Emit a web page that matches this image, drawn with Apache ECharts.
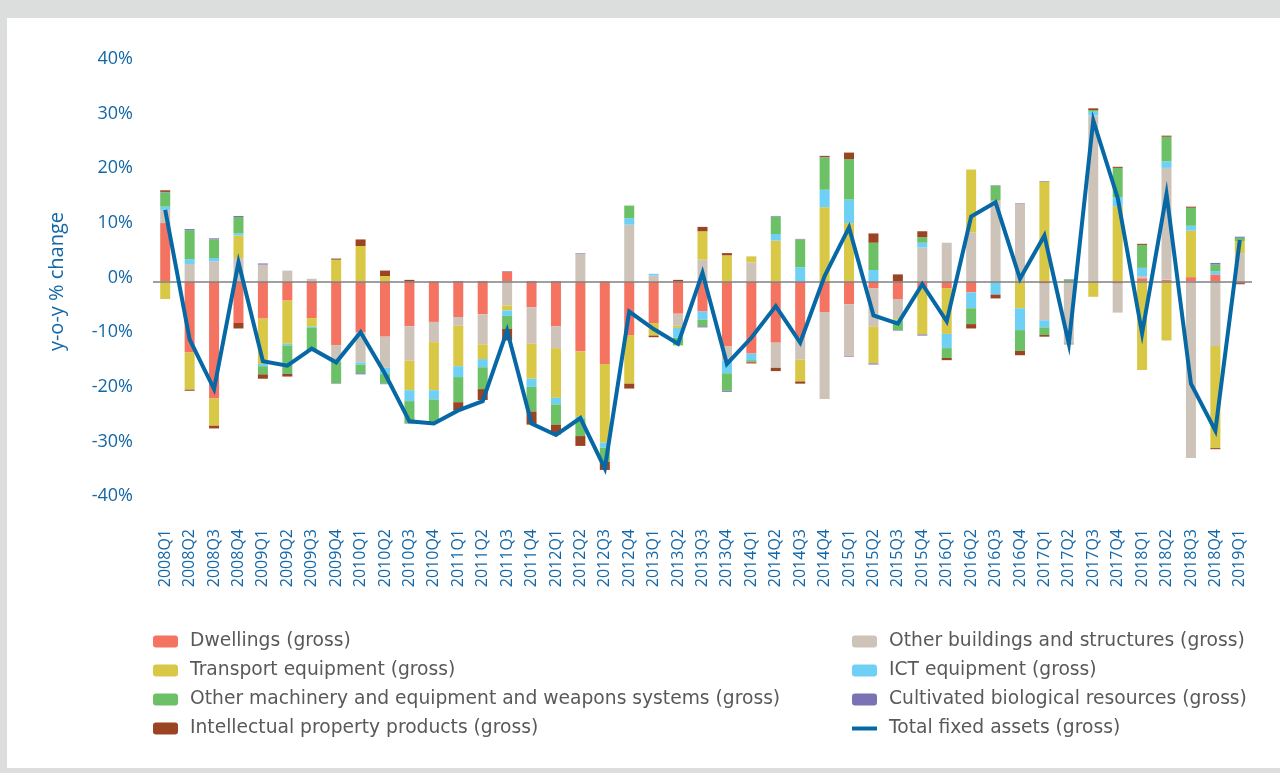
<!DOCTYPE html>
<html>
<head>
<meta charset="utf-8">
<script src="https://cdn.jsdelivr.net/npm/echarts@6/dist/echarts.min.js"></script>
<style>
  html, body { margin: 0; padding: 0; background: #dcdddd; }
  #panel { position: absolute; left: 7px; top: 18px; width: 1273px; height: 750px; background: #fff; }
  #chart { position: absolute; left: 0; top: 0; width: 1280px; height: 773px; }
</style>
</head>
<body>
<div id="panel"></div>
<div id="chart"></div>
<script>
// quarters 2008Q1 .. 2019Q1
var quarters = [];
for (var y = 2008; y <= 2019; y++) {
    for (var q = 1; q <= 4; q++) {
        if (y === 2019 && q > 1) break;
        quarters.push(y + 'Q' + q);
    }
}

// y-o-y % contributions
var dwellings = [10.7, -13.0, -21.4, -7.6, -6.8, -3.5, -6.7, -11.7, -9.3, -10.1, -8.2, -7.4, -6.5, -6.0, 1.8, -4.7, -8.2, -12.8, -15.1, -9.8, -7.6, -5.9, -5.5, -11.9, -13.2, -11.2, -10.2, -5.6, -4.2, -1.2, -3.2, -1.2, -1.2, -2.0, -0.2, 0, -0.4, 0, -0.2, -0.4, 0.6, 0.3, 0.8, 1.3, -0.3];
var otherBuildings = [2.4, 3.2, 3.7, 4.3, 3.1, 2.0, 0.5, -2.7, -5.5, -5.7, -6.3, -3.7, -1.6, -5.5, -4.4, -6.7, -4.0, 5.1, 0.1, 10.4, 1.1, -2.2, 4.0, -2.6, 3.5, -4.6, -4.1, -15.9, -9.5, -7.1, -3.5, 6.2, 7.1, 9.0, 14.8, 14.2, -6.7, -11.3, 30.4, -5.3, 0.4, 20.5, -32.3, -11.8, 5.2];
var transport = [-3.2, -6.8, -5.0, 4.1, -8.3, -7.9, -1.5, 4.0, 6.5, 1.0, -5.4, -8.8, -7.4, -2.7, -0.9, -6.4, -9.1, -12.0, -14.4, -8.9, -2.3, -0.4, 5.2, 4.8, 1.1, 7.5, -4.0, 13.6, 10.7, -6.7, -0.3, -8.5, -8.4, 11.5, 0, -4.9, 18.3, 0, -2.6, 13.8, -16.2, -10.8, 8.5, -18.7, 2.2];
var ict = [0.6, 0.9, 0.6, 0.4, -0.4, -0.3, -0.2, -0.3, -0.4, -1.1, -2.0, -1.7, -2.0, -1.5, -1.0, -1.5, -1.2, -0.3, -0.9, 1.2, 0.3, -1.8, -1.5, -2.3, -1.2, 1.2, 2.6, 3.2, 4.3, 2.1, -0.2, 0.9, -2.6, -2.9, -2.2, -4.0, -1.3, -0.1, 0.7, 1.6, 1.5, 1.2, 0.9, 0.6, 0];
var machinery = [2.6, 5.3, 3.4, 3.0, -1.5, -5.2, -4.2, -3.9, -1.6, -1.8, -4.0, -4.3, -4.6, -4.0, -2.4, -4.5, -3.7, -3.2, -2.6, 2.3, 0, -1.4, -1.2, -3.2, -0.3, 3.2, 5.1, 5.9, 7.4, 5.0, -1.7, 1.0, -1.8, -2.9, 2.7, -3.8, -1.4, 0.3, 0.3, 5.4, 4.2, 4.5, 3.3, 1.2, 0.6];
var cultivated = [0.1, 0.2, 0.2, 0.2, 0.2, 0, 0, -0.1, -0.2, -0.1, -0.1, 0, 0.1, 0.1, 0.1, 0.1, 0.1, 0.1, 0, 0, 0, 0, -0.2, -0.2, -0.1, 0.1, 0.1, 0.1, -0.1, -0.2, -0.1, -0.2, 0, 0, 0.1, 0.1, 0.1, 0.1, 0, 0, 0, 0, 0, 0.3, 0.2];
var ipp = [0.3, -0.2, -0.5, -1.0, -0.8, -0.5, 0, 0.2, 1.2, 1.0, 0.3, 0, -1.5, -2.0, -2.1, -2.4, -1.8, -1.8, -1.5, -0.9, -0.3, 0.3, 0.8, 0.4, -0.2, -0.6, -0.4, 0.2, 1.2, 1.7, 1.3, 1.1, -0.4, -0.8, -0.7, -0.8, -0.3, -0.1, 0.3, 0.2, 0.2, 0.2, 0.2, -0.2, -0.2];
var total = [13.1, -10.6, -19.7, 3.5, -14.6, -15.4, -12.3, -14.8, -9.3, -16.9, -25.6, -26.0, -23.6, -21.9, -9.0, -26.0, -28.1, -25.0, -34.2, -5.5, -8.7, -11.4, 1.6, -15.1, -10.3, -4.5, -11.2, 1.0, 9.9, -6.2, -7.7, -0.5, -7.3, 11.9, 14.5, 0.5, 8.4, -11.4, 29.5, 15.3, -9.5, 16.0, -18.7, -27.3, 7.6];

var names = {
    dw: 'Dwellings (gross)',
    ob: 'Other buildings and structures (gross)',
    tr: 'Transport equipment (gross)',
    ict: 'ICT equipment (gross)',
    mach: 'Other machinery and equipment and weapons systems (gross)',
    cult: 'Cultivated biological resources (gross)',
    ipp: 'Intellectual property products (gross)',
    tot: 'Total fixed assets (gross)'
};

var blue = '#1467a6';
var font = 'Open Sans';
var legendFont = 'DejaVu Sans';

function barSeries(name, data, color) {
    return {
        name: name,
        type: 'bar',
        stack: 'gfcf',
        barWidth: 10,
        itemStyle: { color: color },
        data: data
    };
}

function legendBox(left, items) {
    return {
        orient: 'vertical',
        left: left,
        top: 632,
        itemGap: 10,
        itemWidth: 25,
        itemHeight: 12,
        padding: 0,
        symbolKeepAspect: true,
        textStyle: { fontSize: 18.7, color: '#595959', fontFamily: legendFont, padding: [0, 0, 0, 7] },
        data: items
    };
}

var myChart = echarts.init(document.getElementById('chart'));

var zeroBars = barSeries(names.dw, dwellings, '#f47461');
zeroBars.markLine = {
    silent: true,
    symbol: ['none', 'none'],
    label: { show: false },
    lineStyle: { color: '#808080', width: 1.5, type: 'solid' },
    data: [{ yAxis: 0 }]
};

var option = {
    backgroundColor: 'transparent',
    animation: false,
    textStyle: { fontFamily: font },
    grid: { left: 153, right: 28, top: 63, height: 437 },
    legend: [
        legendBox(153, [names.dw, names.tr, names.mach, names.ipp]),
        legendBox(852, [names.ob, names.ict, names.cult,
            { name: names.tot, icon: 'path://M0,0L25,0L25,4L0,4Z' }])
    ],
    xAxis: {
        type: 'category',
        data: quarters,
        axisLine: { show: false, onZero: false },
        axisTick: { show: false },
        axisLabel: { rotate: 90, interval: 0, margin: 29, fontSize: 16, color: blue, fontFamily: font }
    },
    yAxis: {
        type: 'value',
        min: -40,
        max: 40,
        interval: 10,
        name: 'y-o-y % change',
        nameLocation: 'middle',
        nameRotate: 90,
        nameGap: 86,
        nameTextStyle: { fontSize: 20, color: blue, fontFamily: font },
        axisLine: { show: false },
        axisTick: { show: false },
        splitLine: { show: false },
        axisLabel: {
            formatter: '{value}%',
            margin: 20,
            fontSize: 18,
            color: blue,
            fontFamily: font,
            verticalAlign: 'bottom',
            lineHeight: 8
        }
    },
    series: [
        zeroBars,
        barSeries(names.ob, otherBuildings, '#cec3b8'),
        barSeries(names.tr, transport, '#d9c846'),
        barSeries(names.ict, ict, '#6fd0f6'),
        barSeries(names.mach, machinery, '#6cc066'),
        barSeries(names.cult, cultivated, '#7b72b6'),
        barSeries(names.ipp, ipp, '#9b4423'),
        {
            name: names.tot,
            type: 'line',
            symbol: 'none',
            z: 5,
            itemStyle: { color: '#0768a6' },
            lineStyle: { color: '#0768a6', width: 4, join: 'miter', miterLimit: 10 },
            data: total
        }
    ]
};

myChart.setOption(option);
</script>
</body>
</html>
